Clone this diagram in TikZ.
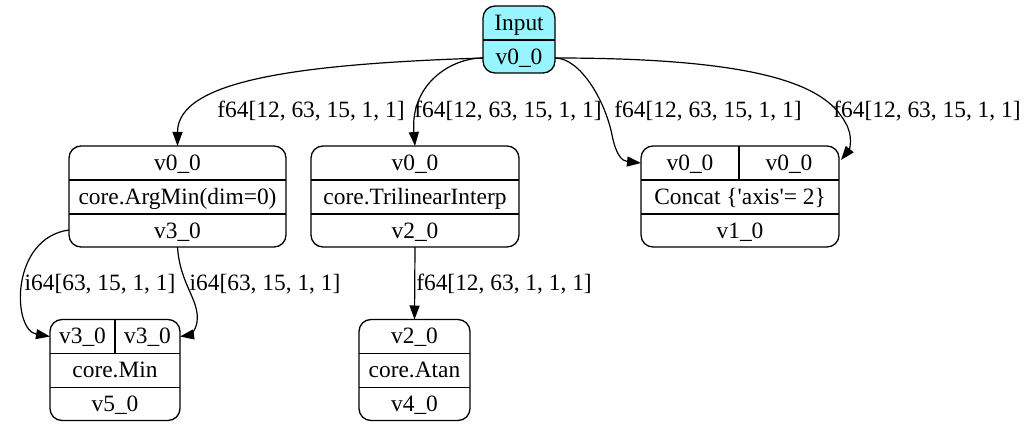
\documentclass[tikz,border=0pt]{standalone}
\usepackage{fontspec}
\setmainfont{Liberation Serif}[Ligatures=TeXOff]
\usetikzlibrary{arrows.meta,calc}
\definecolor{inputfill}{HTML}{98F5FF}

\begin{document}
\begin{tikzpicture}[x=0.5pt,y=-0.5pt,
  rec/.style={draw, rounded corners=6pt, line width=0.65pt, inner sep=0pt, outer sep=0pt},
  div/.style={line width=0.65pt},
  txt/.style={inner sep=0pt, text height=8pt, text depth=0.5pt,
              font=\fontsize{11.7pt}{14pt}\selectfont},
  lbl/.style={txt},
  edge/.style={line width=0.6pt, -{Triangle[length=7pt,width=5pt]}},
]
\fill[white] (0,0) rectangle (1026,427);
\useasboundingbox (0,0) rectangle (1026,427);

% ---- Input record
\node[rec, fill=inputfill, minimum width=36pt, minimum height=33.5pt] (input) at (519,39.5) {};
\draw[div] ($(input.north west)+(0,34)$) -- ($(input.north east)+(0,34)$);
\node[txt] (input-name) at (519,23) {Input};
\node[txt] (input-val) at (519,57) {v0\_0};

% ---- ArgMin record
\node[rec, minimum width=108.5pt, minimum height=50.5pt] (argmin) at (177.5,196.5) {};
\draw[div] ($(argmin.north west)+(0,34)$) -- ($(argmin.north east)+(0,34)$);
\draw[div] ($(argmin.north west)+(0,68)$) -- ($(argmin.north east)+(0,68)$);
\node[txt] (argmin-in)  at (177.5,163) {v0\_0};
\node[txt] (argmin-op)  at (177.5,197) {core.ArgMin(dim=0)};
\node[txt] (argmin-out) at (177.5,231) {v3\_0};

% ---- TrilinearInterp record
\node[rec, minimum width=104pt, minimum height=50.5pt] (tri) at (415,196.5) {};
\draw[div] ($(tri.north west)+(0,34)$) -- ($(tri.north east)+(0,34)$);
\draw[div] ($(tri.north west)+(0,68)$) -- ($(tri.north east)+(0,68)$);
\node[txt] (tri-in)  at (415,163) {v0\_0};
\node[txt] (tri-op)  at (415,197) {core.TrilinearInterp};
\node[txt] (tri-out) at (415,231) {v2\_0};

% ---- Concat record (two inputs)
\node[rec, minimum width=99pt, minimum height=50.5pt] (concat) at (740,196.5) {};
\draw[div] ($(concat.north west)+(0,34)$) -- ($(concat.north east)+(0,34)$);
\draw[div] ($(concat.north west)+(0,68)$) -- ($(concat.north east)+(0,68)$);
\draw[div] ($(concat.north)+(-1,0)$) -- ($(concat.north)+(-1,34)$);
\node[txt] (concat-in1) at (690,163) {v0\_0};
\node[txt] (concat-in2) at (789,163) {v0\_0};
\node[txt] (concat-op)  at (740,197) {Concat \{'axis'= 2\}};
\node[txt] (concat-out) at (740,231) {v1\_0};

% ---- Min record (two inputs)
\node[rec, minimum width=65pt, minimum height=50.5pt] (min) at (115,370) {};
\draw[div] ($(min.north west)+(0,34)$) -- ($(min.north east)+(0,34)$);
\draw[div] ($(min.north west)+(0,68)$) -- ($(min.north east)+(0,68)$);
\draw[div] (min.north) -- ($(min.north)+(0,34)$);
\node[txt] (min-in1) at (82.5,336) {v3\_0};
\node[txt] (min-in2) at (147.5,336) {v3\_0};
\node[txt] (min-op)  at (115,370) {core.Min};
\node[txt] (min-out) at (115,404) {v5\_0};

% ---- Atan record
\node[rec, minimum width=55.5pt, minimum height=50.5pt] (atan) at (414.5,370) {};
\draw[div] ($(atan.north west)+(0,34)$) -- ($(atan.north east)+(0,34)$);
\draw[div] ($(atan.north west)+(0,68)$) -- ($(atan.north east)+(0,68)$);
\node[txt] (atan-in)  at (414.5,336) {v2\_0};
\node[txt] (atan-op)  at (414.5,370) {core.Atan};
\node[txt] (atan-out) at (414.5,404) {v4\_0};

% ---- ports
\coordinate (input-w)  at ($(input.south west)+(0,-15)$);
\coordinate (input-e)  at ($(input.south east)+(0,-15)$);
\coordinate (concat-w) at ($(concat.north west)+(0,17)$);
\coordinate (concat-e) at ($(concat.north east)+(2,14)$);
\coordinate (argmin-w) at ($(argmin.south west)+(0,-17)$);
\coordinate (min-w)    at ($(min.north west)+(0,17)$);
\coordinate (min-e)    at ($(min.north east)+(0,17)$);

% ---- edges
\draw[edge] (input-w) .. controls (300,64) and (177.5,80) .. (argmin.north);
\draw[edge] (input-w) .. controls (450,58) and (410,85) .. (tri.north);
\draw[edge] (input-e) .. controls (580,58) and (605,100) .. (612,135)
                      .. controls (616,155) and (622,161) .. (concat-w);
\draw[edge] (input-e) .. controls (760,58) and (825,85) .. (845,122)
                      .. controls (854,136) and (849,150) .. (concat-e);
\draw[edge] (argmin-w) .. controls (10,238) and (12,330) .. (min-w);
\draw[edge] (argmin.south) .. controls (180,285) and (200,300) .. (197,322)
                           .. controls (196,330) and (190,335) .. (min-e);
\draw[edge] (tri.south) -- (atan.north);

% ---- edge labels
\node[lbl] (l-argmin) at (311,110) {f64[12, 63, 15, 1, 1]};
\node[lbl] (l-tri)    at (508,110) {f64[12, 63, 15, 1, 1]};
\node[lbl] (l-cat1)   at (708,110) {f64[12, 63, 15, 1, 1]};
\node[lbl] (l-cat2)   at (927,110) {f64[12, 63, 15, 1, 1]};
\node[lbl] (l-min1)   at (100,283) {i64[63, 15, 1, 1]};
\node[lbl] (l-min2)   at (265,283) {i64[63, 15, 1, 1]};
\node[lbl] (l-atan)   at (504,283) {f64[12, 63, 1, 1, 1]};
\end{tikzpicture}
\end{document}
